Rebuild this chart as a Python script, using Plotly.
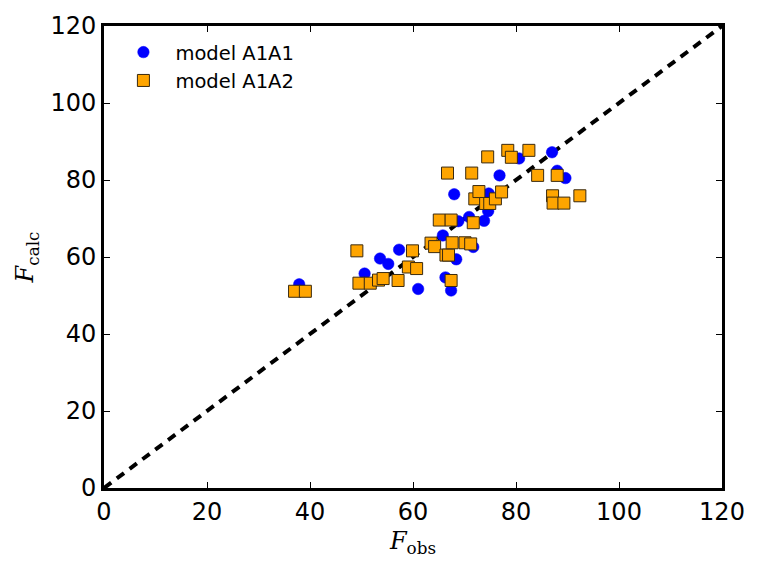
import plotly.graph_objects as go

# model A1A1 (blue circles)
a1a1_obs = [37.9, 50.6, 53.6, 55.2, 57.3, 61.0, 65.8, 66.3, 67.4, 68.4, 68.0,
            68.8, 70.9, 71.7, 73.8, 74.6, 74.7, 76.8, 80.6, 87.0, 88.0, 89.6]
a1a1_calc = [52.9, 55.7, 59.6, 58.2, 61.9, 51.7, 65.6, 54.7, 51.3, 59.4, 76.3,
             69.3, 70.4, 62.6, 69.4, 71.9, 76.5, 81.2, 85.6, 87.2, 82.4, 80.5]

# model A1A2 (orange squares)
a1a2_obs = [37.0, 39.1, 49.1, 49.5, 51.7, 53.3, 54.2, 57.1, 59.1, 59.9, 60.7,
            63.5, 64.2, 65.1, 66.4, 66.9, 67.4, 67.4, 67.6, 70.1, 71.2, 71.7,
            66.7, 71.4, 72.0, 72.8, 74.1, 74.5, 74.9, 76.0, 77.2, 78.4, 79.1,
            82.5, 84.2, 87.1, 87.2, 88.0, 89.3, 92.4]
a1a2_calc = [51.1, 51.1, 61.6, 53.2, 53.2, 54.0, 54.4, 53.9, 57.4, 61.6, 57.0,
             63.6, 62.7, 69.6, 60.5, 60.5, 69.6, 53.9, 63.7, 63.7, 63.4, 68.9,
             81.8, 81.8, 75.1, 77.0, 73.9, 86.0, 73.9, 75.1, 76.9, 87.7, 85.9,
             87.7, 81.2, 75.9, 74.0, 81.2, 74.0, 75.9]

diag = [0, 120]

fig = go.Figure()
fig.add_trace(go.Scatter(x=diag, y=diag, mode="lines",
                         line=dict(color="black", width=4, dash="9px,7px"),
                         showlegend=False, hoverinfo="skip"))
fig.add_trace(go.Scatter(x=a1a1_obs, y=a1a1_calc, mode="markers", name="model A1A1",
                         marker=dict(symbol="circle", size=11.5, color="#0000ff",
                                     line=dict(color="#0000ff", width=0.5))))
fig.add_trace(go.Scatter(x=a1a2_obs, y=a1a2_calc, mode="markers", name="model A1A2",
                         marker=dict(symbol="square", size=12, color="#ffa500",
                                     line=dict(color="#3a2a10", width=1))))

axis_common = dict(showgrid=False, zeroline=False, showline=True, linewidth=3,
                   linecolor="black", mirror="ticks", ticks="inside", ticklen=6,
                   tickwidth=1, tickcolor="black",
                   tickfont=dict(family="DejaVu Sans", size=24, color="black"),
                   range=[0, 120], dtick=20)

fig.update_layout(
    width=757, height=563,
    margin=dict(l=104, r=27, t=18, b=67),
    plot_bgcolor="white", paper_bgcolor="white",
    xaxis=dict(**axis_common,
               title=dict(text="<i>F</i><sub>obs</sub>",
                          font=dict(family="DejaVu Serif", size=24, color="black"),
                          standoff=8)),
    yaxis=dict(**axis_common,
               title=dict(text="<i>F</i><sub>calc</sub>",
                          font=dict(family="DejaVu Serif", size=24, color="black"),
                          standoff=10)),
    legend=dict(x=0.012, y=0.985, xanchor="left", yanchor="top",
                bgcolor="rgba(0,0,0,0)", borderwidth=0,
                font=dict(family="DejaVu Sans", size=19.5, color="black"),
                itemwidth=54, tracegroupgap=2),
)

fig.write_html("out.html")
